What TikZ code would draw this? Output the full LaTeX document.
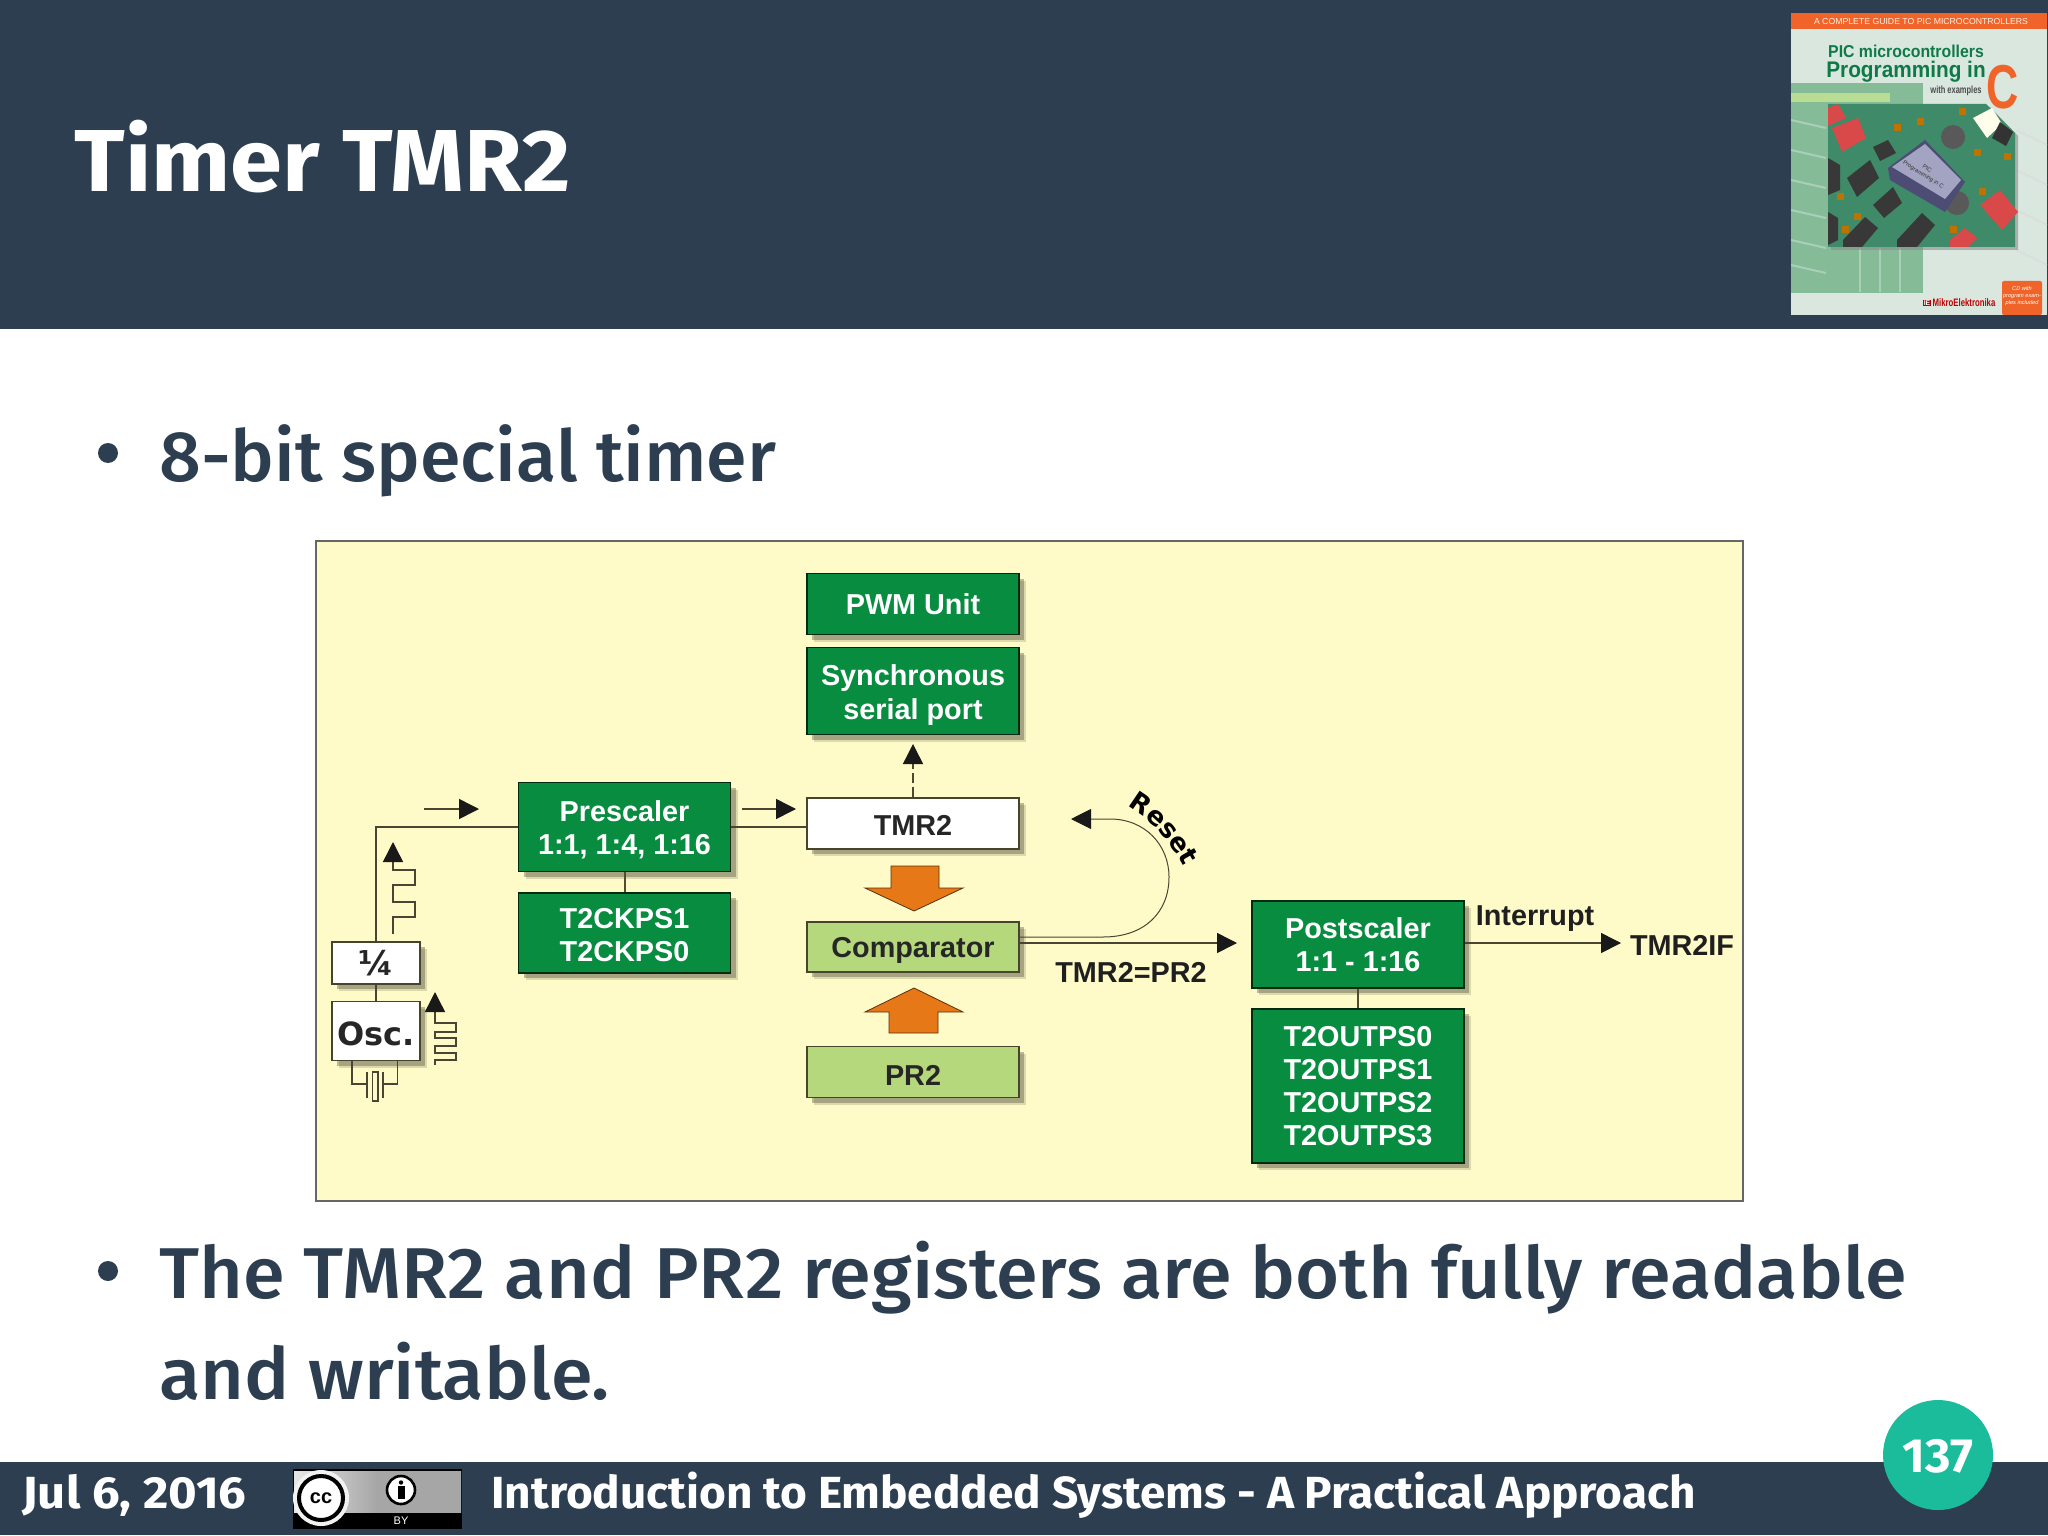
\documentclass[tikz,border=0pt]{standalone}
\usepackage{fontspec}
\usetikzlibrary{arrows.meta,shadows,decorations.text}
\setmainfont{Liberation Sans}
\newfontfamily\titlefont[FakeStretch=1.065]{Fira Sans}
\newfontfamily\bodyfont[FakeStretch=1.05]{Fira Sans Medium}
\newfontfamily\bodyfontb[FakeStretch=1.03]{Fira Sans Medium}
\newfontfamily\footfont[FakeStretch=1.02]{Fira Sans}
\newfontfamily\datefont[FakeStretch=1.09]{Fira Sans}
\newfontfamily\widefont{DejaVu Sans}
\newfontfamily\bookfont[FakeStretch=.72]{Liberation Sans}
\newfontfamily\bookwide[FakeStretch=.92]{Liberation Sans}
\newcommand\lowr[1]{\rule{0pt}{#1pt}}
\definecolor{slate}{HTML}{2C3E50}
\definecolor{panel}{HTML}{FFFBC8}
\definecolor{dgreen}{HTML}{078C40}
\definecolor{lgreen}{HTML}{B6D87C}
\definecolor{orng}{HTML}{E67818}
\definecolor{inkline}{HTML}{4A4432}
\definecolor{teal}{HTML}{1ABC9C}
\definecolor{bookor}{HTML}{F0642A}
\definecolor{bookgr}{HTML}{0F7A48}
\definecolor{pcb}{HTML}{3F8A68}
\definecolor{bookbg}{HTML}{D9E7DF}
\definecolor{bookpan}{HTML}{86BB98}
\tikzset{
 softshadow/.style={drop shadow={shadow xshift=3.5pt,shadow yshift=-3.5pt,opacity=.18,fill=black!70!olive},
   drop shadow={shadow xshift=2.5pt,shadow yshift=-2.5pt,opacity=.35,fill=black!70!olive}},
 blockbox/.style={draw=black!65!olive,line width=.6pt,inner sep=0pt,align=center,softshadow,font=\fontsize{14.4}{16.6}\selectfont\bfseries},
 gbox/.style={blockbox,fill=dgreen,text=white,draw=black!70!dgreen},
 lbox/.style={blockbox,fill=lgreen,text=black!85},
 wbox/.style={blockbox,fill=white,text=black!85},
 wire/.style={draw=inkline,line width=.75pt},
 tip/.style={wire,-{Triangle[length=10pt,width=10pt,fill=black!90,color=black!90]}},
 bigarrow/.style={fill=orng,draw=black!60!orng,line width=.4pt},
 lab/.style={text=black!88,inner sep=0pt,font=\fontsize{14.4}{16.6}\selectfont\bfseries},
 slideline/.style={anchor=base west,inner sep=0pt,text=slate,font=\bodyfont\fontsize{36}{40}\selectfont},
 foot/.style={anchor=base west,inner sep=0pt,text=white,font=\footfont\fontsize{22.5}{24}\selectfont\bfseries},
 booktxt/.style={inner sep=0pt,text=bookgr,font=\bookfont\bfseries},
 chip/.style={fill=black!78},
 dip/.style={fill=red!55!pink!85!black},
 jumper/.style={fill=orange!70!black!85!yellow},
}
\begin{document}
\begin{tikzpicture}[x=.5pt,y=-.5pt]
\useasboundingbox (0,0) rectangle (2048,1535);
\fill[white] (0,0) rectangle (2048,1535);
% header / footer
\fill[slate] (0,0) rectangle (2048,329);
\fill[slate] (0,1462) rectangle (2048,1535);
\node[anchor=base west,inner sep=0pt,text=white,font=\titlefont\fontsize{44}{48}\selectfont\bfseries] (title) at (74,192) {Timer TMR2};
% book
\fill[bookbg] (1791,13) rectangle (2047,315);
\fill[bookor] (1791,13) rectangle (2047,29);
\node[inner sep=0pt,text=white!90!orange,font=\fontsize{4.35}{6}\selectfont] (b1) at (1921,22) {A COMPLETE GUIDE TO PIC MICROCONTROLLERS};
\fill[bookpan] (1791,83) rectangle (1923,293);
\fill[white!70!yellow!80!green,opacity=.75] (1791,93) rectangle (1890,102);
\foreach \yy in {120,150,180,210,240,265}{\draw[white,opacity=.3,line width=1pt] (1791,\yy) -- (1826,\yy+8);}
\foreach \xx in {1860,1880,1900}{\draw[white,opacity=.3,line width=1pt] (\xx,248) -- (\xx,292);}
\foreach \yy in {130,170,210,250}{\draw[black!15,opacity=.6,line width=.8pt] (2016,\yy) -- (2047,\yy+15);}
\fill[black!45,opacity=.6] (1831,107) -- (1990,107) -- (2018,136) -- (2018,250) -- (1831,250) -- cycle;
\fill[pcb] (1828,104) -- (1986,104) -- (2015,133) -- (2015,247) -- (1828,247) -- cycle;
% board parts
\fill[dip] (1832,128) -- (1858,118) -- (1866,138) -- (1842,152) -- cycle;
\fill[dip] (1828,108) -- (1838,104) -- (1846,118) -- (1828,126) -- cycle;
\fill[white!92!yellow] (1973,118) -- (1992,108) -- (2002,124) -- (1987,138) -- cycle;
\fill[black!80] (2000,122) -- (2013,132) -- (2006,146) -- (1992,138) -- cycle;
\fill[chip] (1847,178) -- (1870,160) -- (1879,178) -- (1857,197) -- cycle;
\fill[chip] (1873,205) -- (1893,187) -- (1902,203) -- (1884,218) -- cycle;
\fill[chip] (1873,147) -- (1888,140) -- (1896,153) -- (1880,161) -- cycle;
\fill[chip] (1897,240) -- (1922,213) -- (1935,225) -- (1917,247) -- (1897,247) -- cycle;
\fill[chip] (1843,240) -- (1865,217) -- (1878,228) -- (1862,247) -- (1843,247) -- cycle;
\fill[chip] (1828,158) -- (1840,165) -- (1840,190) -- (1828,195) -- cycle;
\fill[chip] (1828,212) -- (1838,218) -- (1838,240) -- (1828,245) -- cycle;
\fill[dip] (1980,205) -- (2000,190) -- (2018,212) -- (2002,230) -- cycle;
\fill[dip] (1950,240) -- (1965,228) -- (1977,238) -- (1968,247) -- (1950,247) -- cycle;
\foreach \jx/\jy in {1920/122,1897/128,1962/112,1977/153,1840/197,1857/217,1845/230,1953/230,1982/192,2007/157}{\fill[jumper] (\jx-3.5,\jy-3.5) rectangle (\jx+3.5,\jy+3.5);}
\fill[black!65] (1953,137) circle[radius=12];
\fill[black!65] (1957,203) circle[radius=12];
\fill[black!60!blue!40!gray] (1888,168) -- (1890,180) -- (1945,212) -- (1965,182) -- (1925,140) -- cycle;
\fill[blue!20!gray!60] (1892,167) -- (1925,144) -- (1961,180) -- (1945,199) -- cycle;
\node[inner sep=0pt,rotate=-32,align=center,text=black!80,font=\fontsize{2.9}{3.6}\selectfont] (lcd) at (1925,172) {PIC\\Programming in C};
\node[booktxt,font=\bookwide\bfseries\fontsize{8.6}{10}\selectfont,text=bookgr] (b2) at (1906,51) {PIC microcontrollers};
\node[booktxt,font=\bookwide\bfseries\fontsize{11.3}{13}\selectfont,text=bookgr] (b3) at (1906,72) {Programming in};
\node[booktxt,font=\bookfont\bfseries\fontsize{31}{32}\selectfont,text=bookor] (b4) at (2003,87) {C};
\node[booktxt,font=\bookfont\bfseries\fontsize{5.2}{6}\selectfont,text=black!70] (b5) at (1956,91) {with examples};
\fill[bookor,rounded corners=1pt] (2002,281) rectangle (2042,315);
\node[inner sep=0pt,align=center,text=white,font=\itshape\fontsize{2.8}{3.5}\selectfont] (b6) at (2022,296) {CD with\\program exam-\\ples included};
\node[fill=red!75!black,text=white,inner sep=.4pt,font=\fontsize{3.4}{4}\selectfont\bfseries] (b7) at (1927,303) {IE};
\node[inner sep=0pt,text=red!75!black,font=\bookfont\bfseries\fontsize{5.4}{6}\selectfont] (b8) at (1964,303) {MikroElektronika};
% bullets
\fill[slate] (108,453) circle[radius=10];
\node[slideline,font=\bodyfontb\fontsize{35.7}{40}\selectfont] (t1) at (159,481) {8-bit special timer};
\fill[slate] (108,1271) circle[radius=10];
\node[slideline] (t2) at (159,1298) {The TMR2 and PR2 registers are both fully readable};
\node[slideline] (t3) at (159,1399) {and writable.};
% diagram frame
\draw[fill=panel,draw=black!60,line width=.8pt] (316,541) rectangle (1743,1201);
% blocks
\node[gbox,minimum width=106pt,minimum height=30.5pt] (pwm) at (913,604) {PWM Unit};
\node[gbox,minimum width=106pt,minimum height=43.5pt] (sync) at (913,691) {\lowr{14.5}Synchronous\\serial port};
\node[wbox,minimum width=106pt,minimum height=25.5pt] (tmr) at (913,823.5) {\lowr{12}TMR2};
\node[lbox,minimum width=106pt,minimum height=25pt] (cmp) at (913,947) {\lowr{13}Comparator};
\node[lbox,minimum width=106pt,minimum height=25.5pt] (pr) at (913,1072) {\lowr{13}PR2};
\node[gbox,minimum width=106pt,minimum height=44.5pt] (pre) at (624.5,827) {\lowr{13}Prescaler\\1:1, 1:4, 1:16};
\node[gbox,minimum width=106pt,minimum height=40pt] (cks) at (624.5,933) {\lowr{12}T2CKPS1\\T2CKPS0};
\node[gbox,minimum width=106pt,minimum height=43.5pt] (post) at (1358,944.5) {Postscaler\\1:1 - 1:16};
\node[gbox,minimum width=106pt,minimum height=77pt] (ops) at (1358,1086) {T2OUTPS0\\T2OUTPS1\\T2OUTPS2\\T2OUTPS3};
\node[wbox,minimum width=44pt,minimum height=21pt,font=\widefont\bfseries\fontsize{17}{18}\selectfont] (div) at (376,963) {¼};
\node[wbox,minimum width=44pt,minimum height=29.5pt,font=\widefont\bfseries\fontsize{16}{18}\selectfont] (osc) at (376,1031) {\lowr{15}Osc.};
% connectors
\draw[wire] (osc.north) -- (div.south);
\draw[wire] (div.north) |- (pre.west);
\draw[wire] (pre.east) -- (pre.east -| tmr.west);
\draw[wire,line width=1pt,draw=black!55!olive] (pre.south) -- (cks.north);
\draw[wire,line width=1pt,draw=black!55!olive] (post.south) -- (ops.north);
\coordinate (a1s) at (424,809); \coordinate (a1e) at (479,809);
\coordinate (a2s) at (742,809); \coordinate (a2e) at (796,809);
\draw[tip] (a1s) -- (a1e);
\draw[tip] (a2s) -- (a2e);
\coordinate (updash) at (913,744);
\draw[wire,dash pattern=on 5pt off 2pt,draw=black!60!olive,-{Triangle[length=10pt,width=10pt,fill=black!90,color=black!90]}] (tmr.north) -- (updash);
\coordinate (mainout) at (1237,943);
\draw[tip] (cmp.east |- mainout) -- (mainout);
\coordinate (rst) at (1071,819);
\draw[wire,line width=.5pt,-{Triangle[length=10pt,width=10pt,fill=black!90,color=black!90]}] (cmp.east |- 0,937) -- (1103,937) .. controls (1145,937) and (1169,912) .. (1169,877) .. controls (1169,845) and (1145,819) .. (1110,819) -- (rst);
\coordinate (irq) at (1621,943);
\draw[tip] (post.east |- irq) -- (irq);
% orange arrows
\draw[bigarrow] (891,866) -- (939,866) -- (939,888) -- (963,888) -- (914,911) -- (865,888) -- (891,888) -- cycle;
\draw[bigarrow] (889,1033) -- (938,1033) -- (938,1012) -- (963,1012) -- (914,988) -- (865,1012) -- (889,1012) -- cycle;
% waveforms
\draw[tip] (393,934) -- (393,917) -- (415,917) -- (415,902) -- (393,902) -- (393,885) -- (415,885) -- (415,870) -- (393,870) -- (393,842);
\draw[tip] (435,1065) -- (435,1060) -- (456,1060) -- (456,1053) -- (435,1053) -- (435,1046) -- (456,1046) -- (456,1038) -- (435,1038) -- (435,1032) -- (456,1032) -- (456,1023) -- (435,1023) -- (435,992);
% crystal
\draw[wire] (352,1060) -- (352,1084) -- (367,1084) (367,1072) -- (367,1098);
\draw[wire] (372.5,1072) rectangle (378,1101);
\draw[wire] (397.5,1060) -- (397.5,1084) -- (383,1084) (383,1072) -- (383,1098);
% labels
\node[lab] (eqlab) at (1131,972) {TMR2=PR2};
\node[lab] (intlab) at (1535,919) {Interrupt};
\node[lab] (iflab) at (1682,945) {TMR2IF};
\path[decorate,decoration={text along path,text align=center,text={|\widefont\bfseries\fontsize{13}{14}\selectfont|Reset}}] (1110,798) .. controls (1147,812) and (1174,842) .. (1192,884);
% footer
\node[anchor=base west,inner sep=0pt,text=white,font=\datefont\fontsize{22.5}{24}\selectfont\bfseries] (date) at (22,1508) {Jul 6, 2016};
\node[foot] (ftitle) at (491,1508) {Introduction to Embedded Systems - A Practical Approach};
\fill[black] (293,1469) rectangle (462,1529);
\shade[left color=white!80!gray,right color=black!35,middle color=black!35] (294,1471) rectangle (461,1512);
\fill[black!5] (321,1498) circle[radius=28];
\fill[white,draw=black,line width=2pt] (321,1498) circle[radius=22];
\node[inner sep=0pt,font=\fontsize{10}{10}\selectfont\bfseries] (cc) at (321,1498) {cc};
\fill[white,draw=black,line width=1.3pt] (401,1490) circle[radius=14];
\fill[black] (401,1482.5) circle[radius=2.2];
\fill[black] (397.5,1486) rectangle (404.5,1499);
\node[inner sep=0pt,text=white,font=\fontsize{5.5}{6}\selectfont] (by) at (401,1521) {BY};
\fill[teal] (1938,1455) circle[radius=55];
\node[inner sep=0pt,text=white,font=\footfont\fontsize{24}{26}\selectfont\bfseries] (pg) at (1938,1456) {137};
\end{tikzpicture}
\end{document}
